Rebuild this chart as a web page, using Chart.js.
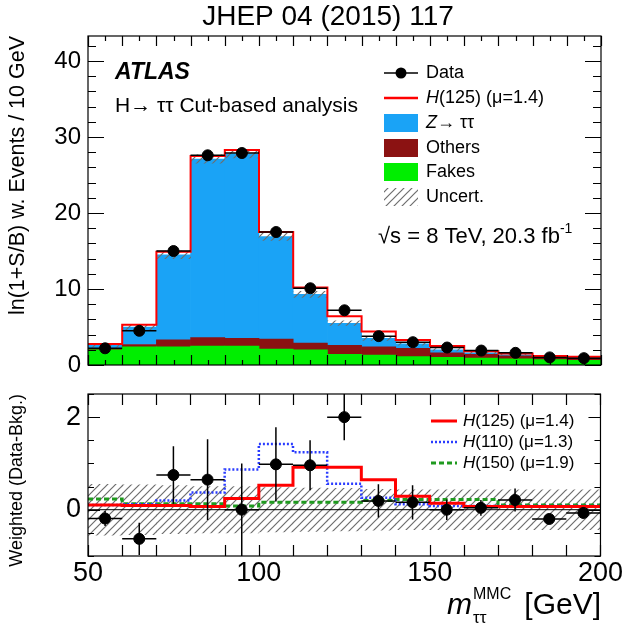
<!DOCTYPE html>
<html>
<head>
<meta charset="utf-8">
<script src="https://cdn.jsdelivr.net/npm/chart.js@4.4.1/dist/chart.umd.min.js"></script>
<style>
  body { margin: 0; background: #fff; }
  #wrap { position: relative; width: 624px; height: 633px; }
  #wrap canvas { position: absolute; left: 0; top: 0; }
</style>
</head>
<body>
<div id="wrap">
  <canvas id="mainchart" width="624" height="633"></canvas>
  <canvas id="ratiochart" width="624" height="633"></canvas>
</div>
<script>
// binning (m_tautau MMC, GeV)
var binEdges = [50, 60, 70, 80, 90, 100, 110, 120, 130, 140, 150, 160, 170, 180, 190, 200];
var xTickLabels = [50, 100, 150, 200];
var mainYTicks = [0, 10, 20, 30, 40];
var ratioYTicks = [0, 2];

// upper panel: ln(1+S/B) weighted events / 10 GeV
var dataVals  = [2.2, 4.5, 15.0, 27.6, 27.9, 17.5, 10.1, 7.2, 3.8, 3.0, 2.3, 1.9, 1.6, 1.0, 0.9];
var dataErr   = [0.35, 0.5, 0.5, 0.6, 0.6, 0.5, 0.45, 0.4, 0.3, 0.3, 0.25, 0.2, 0.2, 0.2, 0.2];
var fakes     = [2.0, 2.4, 2.4, 2.5, 2.5, 2.1, 2.0, 1.4, 1.3, 1.1, 1.0, 0.9, 0.8, 0.7, 0.6];
var others    = [0.2, 0.3, 0.9, 1.1, 1.0, 1.3, 0.9, 1.2, 1.1, 1.1, 0.6, 0.5, 0.4, 0.3, 0.3];
var ztautau   = [0.4, 2.3, 11.2, 23.5, 24.3, 13.5, 6.4, 2.9, 1.1, 0.6, 0.4, 0.2, 0.15, 0.1, 0.1];
var higgs125  = [0.15, 0.3, 0.4, 0.4, 0.5, 0.6, 0.9, 0.9, 0.9, 0.5, 0.5, 0.2, 0.15, 0.1, 0.1];
var bkgUnc    = [0.25, 0.35, 0.5, 0.55, 0.55, 0.5, 0.4, 0.3, 0.25, 0.2, 0.15, 0.12, 0.1, 0.1, 0.1];

// lower panel: weighted (data - bkg)
var diffVals  = [-0.19, -0.63, 0.75, 0.65, 0.0, 0.98, 0.96, 2.0, 0.19, 0.16, 0.0, 0.04, 0.21, -0.2, -0.07];
var diffErr   = [0.16, 0.35, 0.62, 0.87, 1.0, 0.8, 0.54, 0.5, 0.36, 0.37, 0.22, 0.17, 0.25, 0.05, 0.12];
var sig125W   = [0.1, 0.09, 0.09, 0.07, 0.24, 0.53, 0.92, 0.92, 0.65, 0.29, 0.14, 0.07, 0.07, 0.07, 0.07];
var sig110W   = [0.1, 0.12, 0.2, 0.37, 0.87, 1.42, 1.24, 0.56, 0.26, 0.12, 0.08, 0.08, 0.08, 0.08, 0.08];
var sig150W   = [0.23, 0.13, 0.13, 0.13, 0.08, 0.16, 0.16, 0.16, 0.2, 0.22, 0.22, 0.22, 0.1, 0.1, 0.1];
var diffUnc   = [0.55, 0.54, 0.52, 0.5, 0.5, 0.48, 0.47, 0.46, 0.44, 0.43, 0.43, 0.43, 0.43, 0.43, 0.43];

var FONT = '"Liberation Sans", Arial, Helvetica, sans-serif';
var zColor = '#1aa3f6';
var othersColor = '#8b1212';
var fakesColor = '#00ee00';

var binCenters = binEdges.slice(0, -1).map(function (e, i) { return (e + binEdges[i + 1]) / 2; });
var bkgTotal = binCenters.map(function (c, i) { return fakes[i] + others[i] + ztautau[i]; });
var sigPlusBkg = bkgTotal.map(function (b, i) { return b + higgs125[i]; });

function points(vals) {
    return binCenters.map(function (x, i) { return { x: x, y: vals[i] }; });
}
function steps(vals) {
    return binEdges.map(function (x, i) { return { x: x, y: vals[Math.min(i, vals.length - 1)] }; });
}
function band(center, unc) {
    return binCenters.map(function (x, i) { return { x: x, y: [center[i] - unc[i], center[i] + unc[i]] }; });
}

function hatch(color) {
    var c = document.createElement('canvas');
    c.width = 8; c.height = 8;
    var g = c.getContext('2d');
    g.strokeStyle = color;
    g.lineWidth = 1.2;
    g.beginPath();
    g.moveTo(0, 8); g.lineTo(8, 0);
    g.moveTo(-2, 2); g.lineTo(2, -2);
    g.moveTo(6, 10); g.lineTo(10, 6);
    g.stroke();
    return g.createPattern(c, 'repeat');
}
var hatchFill = hatch('#6e6e6e');

// error bars for the data points, drawn under the markers
var errorBars = {
    id: 'errorBars',
    beforeDatasetDraw: function (chart, args) {
        var ds = chart.data.datasets[args.index];
        if (!ds.errors) return;
        var ctx = chart.ctx, a = chart.chartArea, xs = chart.scales.x, ys = chart.scales.y;
        ctx.save();
        ctx.beginPath();
        ctx.rect(a.left, a.top, a.right - a.left, a.bottom - a.top);
        ctx.clip();
        ctx.strokeStyle = '#000';
        ctx.lineWidth = 1.5;
        ds.data.forEach(function (p, i) {
            var px = xs.getPixelForValue(p.x);
            var py = ys.getPixelForValue(p.y);
            ctx.beginPath();
            ctx.moveTo(xs.getPixelForValue(binEdges[i]), py);
            ctx.lineTo(xs.getPixelForValue(binEdges[i + 1]), py);
            ctx.moveTo(px, ys.getPixelForValue(p.y - ds.errors[i]));
            ctx.lineTo(px, ys.getPixelForValue(p.y + ds.errors[i]));
            ctx.stroke();
        });
        ctx.restore();
    }
};

// ROOT style frame with inward ticks on all sides
var frameTicks = {
    id: 'frameTicks',
    afterDraw: function (chart, args, o) {
        var ctx = chart.ctx, a = chart.chartArea, xs = chart.scales.x, ys = chart.scales.y;
        ctx.save();
        ctx.strokeStyle = '#000';
        ctx.lineWidth = 1.2;
        ctx.strokeRect(a.left, a.top, a.right - a.left, a.bottom - a.top);
        ctx.beginPath();
        var v, px, len;
        for (v = xs.min; v <= xs.max + 1e-6; v += 5) {
            px = Math.round(xs.getPixelForValue(v)) + 0.5;
            len = (v % 50 === 0) ? o.xMajor : (v % 10 === 0 ? o.xMid : o.xMinor);
            if (!len) continue;
            ctx.moveTo(px, a.bottom); ctx.lineTo(px, a.bottom - len);
            ctx.moveTo(px, a.top); ctx.lineTo(px, a.top + len);
        }
        for (v = o.yFrom; v <= ys.max + 1e-6; v += o.yStep) {
            var py = Math.round(ys.getPixelForValue(v)) + 0.5;
            var major = Math.abs(v / o.yMajorStep - Math.round(v / o.yMajorStep)) < 1e-6;
            len = major ? o.yMajor : o.yMinor;
            ctx.moveTo(a.left, py); ctx.lineTo(a.left + len, py);
            ctx.moveTo(a.right, py); ctx.lineTo(a.right - len, py);
        }
        ctx.stroke();
        ctx.restore();
    }
};

function txt(ctx, s, x, y, size, style, align) {
    ctx.font = (style ? style + ' ' : '') + size + 'px ' + FONT;
    ctx.textAlign = align || 'left';
    ctx.textBaseline = 'middle';
    ctx.fillText(s, x, y);
    return ctx.measureText(s).width;
}

var mainLabels = {
    id: 'mainLabels',
    afterDraw: function (chart) {
        var ctx = chart.ctx;
        ctx.save();
        ctx.fillStyle = '#000';
        txt(ctx, 'JHEP 04 (2015) 117', 328, 17, 28, '', 'center');
        txt(ctx, 'ATLAS', 115, 73, 23, 'italic bold');
        txt(ctx, 'H\u2192 \u03c4\u03c4 Cut-based analysis', 115, 106, 21);

        var sx = 384, sw = 34, tx = 426, rows = [73, 98, 123, 148, 172, 197], fs = 18;
        // Data
        ctx.strokeStyle = '#000'; ctx.lineWidth = 1.5;
        ctx.beginPath(); ctx.moveTo(sx, rows[0]); ctx.lineTo(sx + sw, rows[0]); ctx.stroke();
        ctx.beginPath(); ctx.arc(sx + sw / 2, rows[0], 5.5, 0, 2 * Math.PI); ctx.fill();
        txt(ctx, 'Data', tx, rows[0], fs);
        // H(125)
        ctx.strokeStyle = '#ff0000'; ctx.lineWidth = 2.5;
        ctx.beginPath(); ctx.moveTo(sx, rows[1]); ctx.lineTo(sx + sw, rows[1]); ctx.stroke();
        var w = txt(ctx, 'H', tx, rows[1], fs, 'italic');
        txt(ctx, '(125) (\u03bc=1.4)', tx + w, rows[1], fs);
        // boxes
        [[zColor, rows[2]], [othersColor, rows[3]], [fakesColor, rows[4]], [hatchFill, rows[5]]].forEach(function (b) {
            ctx.fillStyle = b[0];
            ctx.fillRect(sx, b[1] - 9, sw, 18);
        });
        ctx.fillStyle = '#000';
        w = txt(ctx, 'Z', tx, rows[2], fs, 'italic');
        txt(ctx, '\u2192 \u03c4\u03c4', tx + w, rows[2], fs);
        txt(ctx, 'Others', tx, rows[3], fs);
        txt(ctx, 'Fakes', tx, rows[4], fs);
        txt(ctx, 'Uncert.', tx, rows[5], fs);

        w = txt(ctx, '\u221as = 8 TeV, 20.3 fb', 378, 237, 22);
        txt(ctx, '-1', 378 + w, 229, 14);
        ctx.restore();
    }
};

var ratioLabels = {
    id: 'ratioLabels',
    afterDraw: function (chart) {
        var ctx = chart.ctx;
        ctx.save();
        ctx.fillStyle = '#000';
        var items = [
            ['#ff0000', [], 3, '(125) (\u03bc=1.4)', 421],
            ['#2a3cff', [2, 2], 2.5, '(110) (\u03bc=1.3)', 442],
            ['#1f9a1f', [5, 3], 3, '(150) (\u03bc=1.9)', 463]
        ];
        items.forEach(function (it) {
            ctx.strokeStyle = it[0]; ctx.lineWidth = it[2]; ctx.setLineDash(it[1]);
            ctx.beginPath(); ctx.moveTo(431, it[4]); ctx.lineTo(457, it[4]); ctx.stroke();
            var w = txt(ctx, 'H', 463, it[4], 17, 'italic');
            txt(ctx, it[3], 463 + w, it[4], 17);
        });
        ctx.setLineDash([]);
        // x axis title
        var x = 447;
        var w = txt(ctx, 'm', x, 606, 30, 'italic');
        txt(ctx, '\u03c4\u03c4', x + w + 1, 618, 17);
        txt(ctx, 'MMC', x + w + 1, 595, 16);
        txt(ctx, '[GeV]', 601, 606, 30, '', 'right');
        ctx.restore();
    }
};

new Chart(document.getElementById('mainchart'), {
    type: 'bar',
    data: {
        datasets: [
            { type: 'line', label: 'Data', data: points(dataVals), errors: dataErr, stack: 'data',
              showLine: false, pointRadius: 5.5, pointBackgroundColor: '#000', pointBorderColor: '#000' },
            { type: 'line', label: 'H(125)', data: steps(sigPlusBkg), stack: 'sig', stepped: true,
              borderColor: '#ff0000', borderWidth: 2, pointRadius: 0, fill: false },
            { label: 'Uncert.', data: band(bkgTotal, bkgUnc), stack: 'unc', grouped: false,
              backgroundColor: hatchFill },
            { label: 'Fakes', data: points(fakes), stack: 'bkg', grouped: false, backgroundColor: fakesColor },
            { label: 'Others', data: points(others), stack: 'bkg', grouped: false, backgroundColor: othersColor },
            { label: 'Z->tautau', data: points(ztautau), stack: 'bkg', grouped: false, backgroundColor: zColor }
        ]
    },
    options: {
        responsive: false,
        animation: false,
        devicePixelRatio: 1,
        layout: { padding: { left: 0, right: 23, top: 36, bottom: 268 }, autoPadding: false },
        datasets: { bar: { barPercentage: 1, categoryPercentage: 1 } },
        plugins: {
            legend: { display: false }, tooltip: { enabled: false },
            frameTicks: { xMajor: 10, xMid: 10, xMinor: 5, yFrom: 0, yStep: 2, yMajorStep: 10, yMajor: 16, yMinor: 8 }
        },
        scales: {
            x: { type: 'linear', min: binEdges[0], max: binEdges[binEdges.length - 1], offset: false, display: false },
            y: {
                min: 0, max: 43.3, stacked: true,
                afterFit: function (s) { s.width = 88; },
                afterBuildTicks: function (s) { s.ticks = mainYTicks.map(function (v) { return { value: v }; }); },
                grid: { display: false, drawTicks: false },
                border: { display: false },
                ticks: { font: { family: FONT, size: 24 }, color: '#000', padding: 7 },
                title: { display: true, text: 'ln(1+S/B) w. Events / 10 GeV', align: 'end',
                         font: { family: FONT, size: 21.5 }, color: '#000', padding: { top: 5, bottom: 0 } }
            }
        }
    },
    plugins: [errorBars, frameTicks, mainLabels]
});

new Chart(document.getElementById('ratiochart'), {
    type: 'bar',
    data: {
        datasets: [
            { type: 'line', label: 'Data', data: points(diffVals), errors: diffErr,
              showLine: false, pointRadius: 5.5, pointBackgroundColor: '#000', pointBorderColor: '#000' },
            { type: 'line', label: 'H(125)', data: steps(sig125W), stepped: true,
              borderColor: '#ff0000', borderWidth: 3, pointRadius: 0, fill: false },
            { type: 'line', label: 'H(110)', data: steps(sig110W), stepped: true, borderDash: [2, 2],
              borderColor: '#2a3cff', borderWidth: 2.5, pointRadius: 0, fill: false },
            { type: 'line', label: 'H(150)', data: steps(sig150W), stepped: true, borderDash: [5, 3],
              borderColor: '#1f9a1f', borderWidth: 3, pointRadius: 0, fill: false },
            { type: 'line', label: 'zero', data: [{ x: binEdges[0], y: 0 }, { x: binEdges[binEdges.length - 1], y: 0 }],
              borderColor: '#000', borderWidth: 1, pointRadius: 0, fill: false },
            { label: 'Uncert.', data: band(diffUnc.map(function () { return 0; }), diffUnc), grouped: false,
              backgroundColor: hatchFill }
        ]
    },
    options: {
        responsive: false,
        animation: false,
        devicePixelRatio: 1,
        layout: { padding: { left: 0, right: 23, top: 394, bottom: 0 }, autoPadding: false },
        datasets: { bar: { barPercentage: 1, categoryPercentage: 1 } },
        plugins: {
            legend: { display: false }, tooltip: { enabled: false },
            frameTicks: { xMajor: 11, xMid: 11, xMinor: 0, yFrom: -1, yStep: 0.5, yMajorStep: 2, yMajor: 12, yMinor: 6 }
        },
        scales: {
            x: {
                type: 'linear', min: binEdges[0], max: binEdges[binEdges.length - 1], offset: false,
                afterFit: function (s) { s.height = 77; },
                afterBuildTicks: function (s) { s.ticks = xTickLabels.map(function (v) { return { value: v }; }); },
                grid: { display: false, drawTicks: false },
                border: { display: false },
                ticks: { font: { family: FONT, size: 27 }, color: '#000', padding: 1, maxRotation: 0 }
            },
            y: {
                min: -1, max: 2.5, stacked: false,
                afterFit: function (s) { s.width = 88; },
                afterBuildTicks: function (s) { s.ticks = ratioYTicks.map(function (v) { return { value: v }; }); },
                grid: { display: false, drawTicks: false },
                border: { display: false },
                ticks: { font: { family: FONT, size: 27 }, color: '#000', padding: 7 },
                title: { display: true, text: 'Weighted (Data-Bkg.)', align: 'end',
                         font: { family: FONT, size: 18 }, color: '#000', padding: { top: 6, bottom: 0 } }
            }
        }
    },
    plugins: [errorBars, frameTicks, ratioLabels]
});
</script>
</body>
</html>
